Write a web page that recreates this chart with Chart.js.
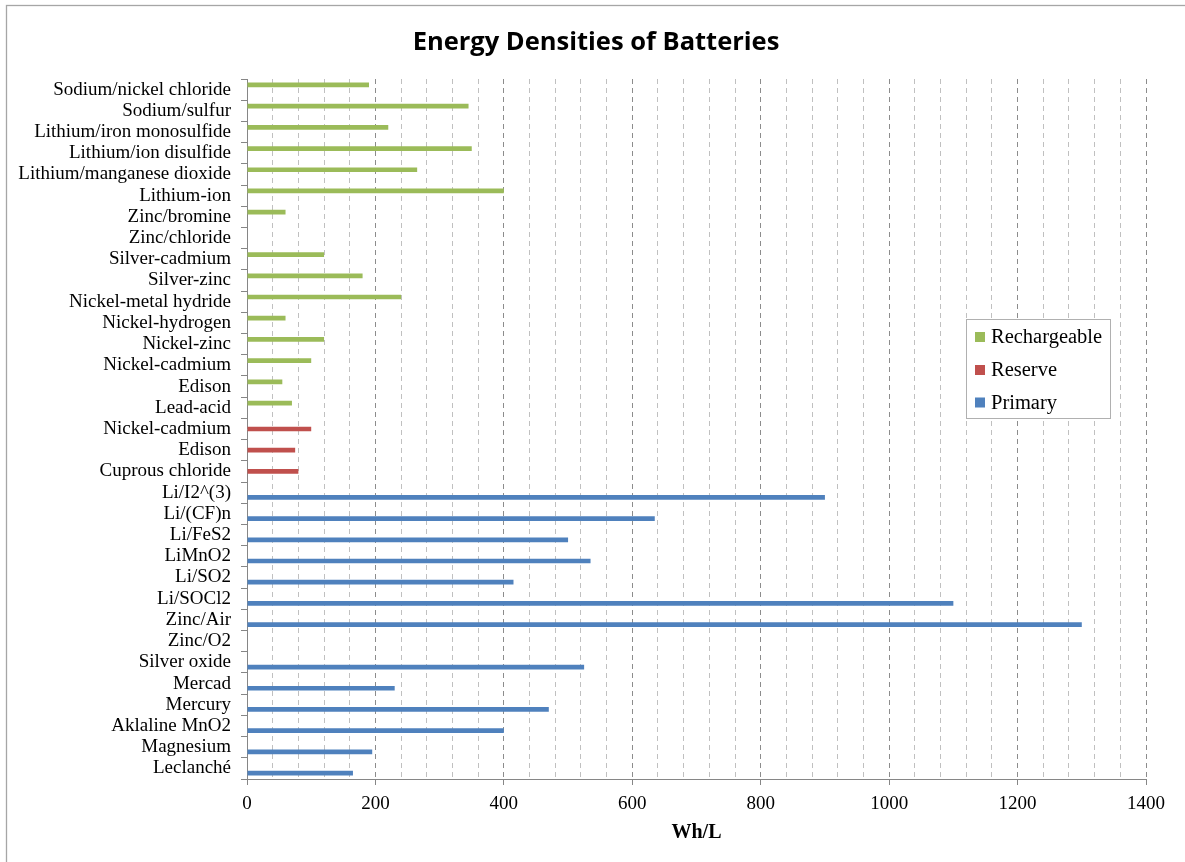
<!DOCTYPE html>
<html>
<head>
<meta charset="utf-8">
<script src="https://cdn.jsdelivr.net/npm/chart.js@4.4.1/dist/chart.umd.min.js"></script>
<style>
  html, body { margin: 0; padding: 0; background: #ffffff; }
  #wrap { width: 1185px; height: 862px; position: relative; }
</style>
</head>
<body>
<div id="wrap"><canvas id="c" width="1185" height="862"></canvas></div>
<script>
// ---- data (top of chart to bottom) ----
const categories = [
  "Sodium/nickel chloride", "Sodium/sulfur", "Lithium/iron monosulfide", "Lithium/ion disulfide",
  "Lithium/manganese dioxide", "Lithium-ion", "Zinc/bromine", "Zinc/chloride", "Silver-cadmium",
  "Silver-zinc", "Nickel-metal hydride", "Nickel-hydrogen", "Nickel-zinc", "Nickel-cadmium",
  "Edison", "Lead-acid", "Nickel-cadmium", "Edison", "Cuprous chloride", "Li/I2^(3)", "Li/(CF)n",
  "Li/FeS2", "LiMnO2", "Li/SO2", "Li/SOCl2", "Zinc/Air", "Zinc/O2", "Silver oxide", "Mercad",
  "Mercury", "Aklaline MnO2", "Magnesium", "Leclanché"
];
const rechargeable = [190, 345, 220, 350, 265, 400, 60, null, 120, 180, 240, 60, 120, 100, 55, 70,
  null, null, null, null, null, null, null, null, null, null, null, null, null, null, null, null, null];
const reserve = [null, null, null, null, null, null, null, null, null, null, null, null, null, null, null, null,
  100, 75, 80, null, null, null, null, null, null, null, null, null, null, null, null, null, null];
const primary = [null, null, null, null, null, null, null, null, null, null, null, null, null, null, null, null,
  null, null, null, 900, 635, 500, 535, 415, 1100, 1300, null, 525, 230, 470, 400, 195, 165];
const seriesNames = ["Rechargeable", "Reserve", "Primary"];
const seriesColors = ["#9BBB59", "#C0504D", "#4F81BD"];
const xTicksShown = [0, 200, 400, 600, 800, 1000, 1200, 1400];

const serif = "'Liberation Serif', 'Times New Roman', serif";

const frame = {
  id: 'frame',
  beforeDraw(chart) {
    const ctx = chart.ctx;
    ctx.save();
    ctx.fillStyle = '#ffffff';
    ctx.fillRect(0, 0, chart.width, chart.height);
    ctx.strokeStyle = '#a6a6a6';
    ctx.lineWidth = 1.3;
    ctx.strokeRect(6.5, 5.5, chart.width + 20, chart.height + 20);
    ctx.restore();
  }
};

const boxLegend = {
  id: 'boxLegend',
  afterDraw(chart) {
    const ctx = chart.ctx;
    const x = 966.5, y = 319.5, w = 144, h = 99;
    ctx.save();
    ctx.fillStyle = '#ffffff';
    ctx.fillRect(x, y, w, h);
    ctx.strokeStyle = '#b0b0b0';
    ctx.lineWidth = 1;
    ctx.strokeRect(x, y, w, h);
    ctx.font = "20.5px " + serif;
    ctx.textBaseline = 'middle';
    ctx.textAlign = 'left';
    const rows = [337, 370, 402.5];
    chart.data.datasets.forEach((ds, i) => {
      ctx.fillStyle = ds.backgroundColor;
      ctx.fillRect(975, rows[i] - 5, 10, 10);
      ctx.fillStyle = '#000000';
      ctx.fillText(ds.label, 991, rows[i] + 1);
    });
    ctx.restore();
  }
};

new Chart(document.getElementById('c'), {
  type: 'bar',
  data: {
    labels: categories,
    datasets: [
      { label: seriesNames[0], data: rechargeable, backgroundColor: seriesColors[0] },
      { label: seriesNames[1], data: reserve, backgroundColor: seriesColors[1] },
      { label: seriesNames[2], data: primary, backgroundColor: seriesColors[2] }
    ]
  },
  options: {
    indexAxis: 'y',
    responsive: false,
    animation: false,
    devicePixelRatio: 1,
    categoryPercentage: 3 / 4.5,
    barPercentage: 1,
    layout: { padding: { left: 7, right: 0, top: 0, bottom: 0 } },
    plugins: {
      legend: { display: false },
      tooltip: { enabled: false },
      title: {
        display: true,
        text: 'Energy Densities of Batteries',
        color: '#000000',
        font: { family: "'Open Sans', 'Noto Sans', sans-serif", size: 25.5, weight: 'bold', lineHeight: 1.2 },
        padding: { top: 27, bottom: 21.4 }
      }
    },
    scales: {
      x: {
        type: 'linear',
        min: 0, max: 1400,
        afterFit(scale) { scale.height = 83; },
        ticks: {
          stepSize: 40,
          autoSkip: false,
          maxRotation: 0,
          padding: 8,
          color: '#000000',
          font: { family: serif, size: 19 },
          callback: (v) => xTicksShown.includes(v) ? String(v) : ''
        },
        grid: {
          color: (c) => (c.tick && c.tick.value % 200 === 0) ? '#8c8c8c' : '#c0c0c0',
          lineWidth: 1,
          tickLength: 6,
          tickColor: (c) => (c.tick && c.tick.value % 200 === 0) ? '#868686' : 'rgba(0,0,0,0)'
        },
        border: { display: true, color: '#868686', width: 1, dash: [5, 4] },
        title: {
          display: true,
          text: 'Wh/L',
          color: '#000000',
          font: { family: serif, size: 20, weight: 'bold', lineHeight: 1.2 },
          padding: { top: 4, bottom: 17 }
        }
      },
      y: {
        type: 'category',
        afterFit(scale) { scale.width = 240; },
        ticks: {
          autoSkip: false,
          padding: 10,
          color: '#000000',
          font: { family: serif, size: 19 }
        },
        grid: {
          offset: true,
          drawOnChartArea: false,
          tickLength: 6,
          tickColor: '#868686'
        },
        border: { display: true, color: '#868686', width: 1 }
      },
      yRightMargin: {
        type: 'category',
        position: 'right',
        afterFit(scale) { scale.width = 39; },
        ticks: { display: false },
        grid: { display: false, drawTicks: false },
        border: { display: false }
      }
    }
  },
  plugins: [frame, boxLegend]
});
</script>
</body>
</html>
